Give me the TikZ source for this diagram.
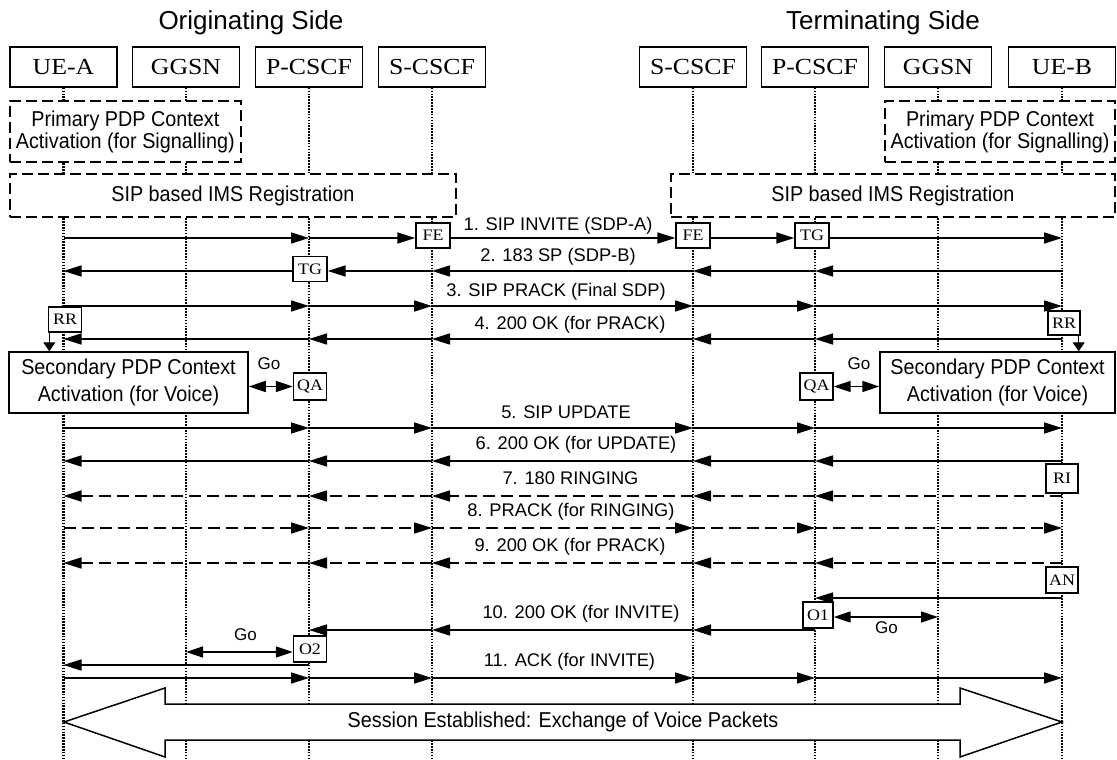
\documentclass[tikz,border=0pt]{standalone}
\usepackage{fontspec}
\setmainfont{Liberation Sans}
\newfontfamily\serifbox{Liberation Serif}[FakeStretch=1.12]
\newfontfamily\boxsans{Liberation Sans}[FakeStretch=0.92]
\usetikzlibrary{arrows.meta}
\begin{document}
\begin{tikzpicture}[x=1pt,y=-1pt,
  lifeline/.style={line width=2.2pt, dash pattern=on 1.6pt off 1.3pt},
  hdr/.style={draw, line width=1.5pt, fill=white, minimum width=107pt, minimum height=40pt, inner sep=0pt, font=\serifbox\fontsize{23}{27}\selectfont},
  dbox/.style={draw, line width=1.5pt, dash pattern=on 11pt off 5pt, fill=white, inner sep=0pt, align=center, font=\boxsans\fontsize{21.5}{22}\selectfont},
  sbox/.style={draw, line width=1.5pt, fill=white, inner sep=0pt, align=center, font=\boxsans\fontsize{21.5}{27}\selectfont},
  tagbox/.style={draw, line width=1.4pt, fill=white, inner sep=0pt, minimum width=33pt, minimum height=26pt, font=\serifbox\fontsize{16}{18}\selectfont},
  msg/.style={line width=1.6pt, -{Triangle[length=18pt,width=11pt]}},
  dmsg/.style={msg, dash pattern=on 12pt off 6pt},
  goarrow/.style={line width=1.6pt, {Triangle[length=17pt,width=11pt]}-{Triangle[length=17pt,width=11pt]}},
  downarrow/.style={line width=1pt, -{Triangle[length=9pt,width=12pt]}},
  lbl/.style={font=\fontsize{18.3}{20}\selectfont, inner sep=0pt},
  golbl/.style={font=\fontsize{17}{19}\selectfont, inner sep=0pt},
  title/.style={font=\fontsize{26}{30}\selectfont, inner sep=0pt},
]
\useasboundingbox (0,0) rectangle (1117,760);
\fill[white] (0,0) rectangle (1117,760);

% titles
\node[title] (tO) at (251,23) {Originating Side};
\node[title] (tT) at (883,23) {Terminating Side};

% header boxes
\node[hdr] (hUA) at (63.5,67) {UE-A};
\node[hdr] (hGA) at (186,67) {GGSN};
\node[hdr] (hPA) at (309,67) {P-CSCF};
\node[hdr] (hSA) at (432,67) {S-CSCF};
\node[hdr] (hSB) at (693,67) {S-CSCF};
\node[hdr] (hPB) at (815,67) {P-CSCF};
\node[hdr] (hGB) at (938,67) {GGSN};
\node[hdr] (hUB) at (1062,67) {UE-B};

\coordinate (bot) at (0,760);
\foreach \h in {hUA,hGA,hPA,hSA,hSB,hPB,hGB,hUB}
  \draw[lifeline] (\h.south) -- (\h.south |- bot);

% message rows
\coordinate (m1) at (0,238);
\coordinate (m2) at (0,271);
\coordinate (m3) at (0,306);
\coordinate (m4) at (0,339);
\coordinate (m5) at (0,428);
\coordinate (m6) at (0,461);
\coordinate (m7) at (0,496);
\coordinate (m8) at (0,528);
\coordinate (m9) at (0,563);
\coordinate (ma) at (0,598);
\coordinate (mb) at (0,630);
\coordinate (mc) at (0,665);
\coordinate (md) at (0,678);
\coordinate (g1) at (0,617);
\coordinate (g2) at (0,652);

% dashed procedure boxes
\node[dbox, minimum width=231pt, minimum height=61pt] (ppA) at (125.3,131.5) {Primary PDP Context\\Activation (for Signalling)};
\node[dbox, minimum width=230pt, minimum height=61pt] (ppB) at (1000,131.5) {Primary PDP Context\\Activation (for Signalling)};
\node[dbox, minimum width=446pt, minimum height=43pt] (imsA) at (232.8,195.5) {SIP based IMS Registration};
\node[dbox, minimum width=444pt, minimum height=43pt] (imsB) at (892.8,195.5) {SIP based IMS Registration};

% secondary PDP boxes
\node[sbox, minimum width=239pt, minimum height=61pt] (secA) at (128.5,382.5) {Secondary PDP Context\\Activation (for Voice)};
\node[sbox, minimum width=235pt, minimum height=61pt] (secB) at (997.5,382.5) {Secondary PDP Context\\Activation (for Voice)};

% tag boxes
\node[tagbox, minimum width=34pt, minimum height=25pt] (FEa) at (433,235.5) {FE};
\node[tagbox, minimum width=34pt, minimum height=25pt] (FEb) at (693,235.5) {FE};
\node[tagbox, minimum width=34pt, minimum height=25pt] (TGb) at (812,235.5) {TG};
\node[tagbox, minimum width=34pt, minimum height=25pt] (TGa) at (310,269) {TG};
\node[tagbox, minimum height=25pt] (RRa) at (65,319.5) {RR};
\node[tagbox, minimum width=32pt, minimum height=24pt] (RRb) at (1064,323) {RR};
\node[tagbox, minimum height=27pt] (QAa) at (310,386.5) {QA};
\node[tagbox, minimum height=27pt] (QAb) at (816.5,386.5) {QA};
\node[tagbox, minimum width=32pt, minimum height=29pt] (RI) at (1062,478.5) {RI};
\node[tagbox, minimum width=32pt] (AN) at (1062,580) {AN};
\node[tagbox, minimum width=30pt] (O1) at (818,615) {O1};
\node[tagbox] (O2) at (310,649) {O2};

% RR to secondary box
\draw[downarrow] ([xshift=1.5pt]RRa.south west) -- ([xshift=1.5pt]RRa.south west |- secA.north);
\draw[downarrow] ([xshift=-2pt]RRb.south east) -- ([xshift=-2pt]RRb.south east |- secB.north);

% 1. SIP INVITE
\draw[msg] (hUA |- m1) -- (hPA |- m1);
\draw[msg] (hPA |- m1) -- (FEa.west |- m1);
\draw[msg] (FEa.east |- m1) -- (FEb.west |- m1);
\draw[msg] (FEb.east |- m1) -- (TGb.west |- m1);
\draw[msg] (TGb.east |- m1) -- (hUB |- m1);
\node[lbl] (l1) at (558,226) {1. SIP INVITE (SDP-A)};

% 2. 183 SP
\draw[msg] (hUB |- m2) -- (hPB |- m2);
\draw[msg] (hPB |- m2) -- (hSB |- m2);
\draw[msg] (hSB |- m2) -- (hSA |- m2);
\draw[msg] (hSA |- m2) -- (TGa.east |- m2);
\draw[msg] (TGa.west |- m2) -- (hUA |- m2);
\node[lbl] (l2) at (558,257) {2. 183 SP (SDP-B)};

% 3. SIP PRACK
\foreach \a/\b in {hUA/hPA,hPA/hSA,hSA/hSB,hSB/hPB,hPB/hUB}
  \draw[msg] (\a |- m3) -- (\b |- m3);
\node[lbl] (l3) at (556,292) {3. SIP PRACK (Final SDP)};

% 4. 200 OK
\foreach \a/\b in {hUB/hPB,hPB/hSB,hSB/hSA,hSA/hPA,hPA/hUA}
  \draw[msg] (\a |- m4) -- (\b |- m4);
\node[lbl] (l4) at (570,325) {4. 200 OK (for PRACK)};

% Go (QA)
\draw[goarrow] (secA.east |- QAa) -- (QAa.west);
\draw[goarrow] (QAb.east) -- (secB.west |- QAb);
\node[golbl] (goA) at (269,364) {Go};
\node[golbl] (goB) at (859,364) {Go};

% 5. SIP UPDATE
\foreach \a/\b in {hUA/hPA,hPA/hSA,hSA/hSB,hSB/hPB,hPB/hUB}
  \draw[msg] (\a |- m5) -- (\b |- m5);
\node[lbl] (l5) at (566,412) {5. SIP UPDATE};

% 6. 200 OK
\foreach \a/\b in {hUB/hPB,hPB/hSB,hSB/hSA,hSA/hPA,hPA/hUA}
  \draw[msg] (\a |- m6) -- (\b |- m6);
\node[lbl] (l6) at (576,445) {6. 200 OK (for UPDATE)};

% 7. 180 RINGING
\foreach \a/\b in {hUB/hPB,hPB/hSB,hSB/hSA,hSA/hPA,hPA/hUA}
  \draw[dmsg] (\a |- m7) -- (\b |- m7);
\node[lbl] (l7) at (570.5,478) {7. 180 RINGING};

% 8. PRACK
\foreach \a/\b in {hUA/hPA,hPA/hSA,hSA/hSB,hSB/hPB,hPB/hUB}
  \draw[dmsg] (\a |- m8) -- (\b |- m8);
\node[lbl] (l8) at (571,512) {8. PRACK (for RINGING)};

% 9. 200 OK
\foreach \a/\b in {hUB/hPB,hPB/hSB,hSB/hSA,hSA/hPA,hPA/hUA}
  \draw[dmsg] (\a |- m9) -- (\b |- m9);
\node[lbl] (l9) at (570,547) {9. 200 OK (for PRACK)};

% 10. 200 OK (for INVITE)
\draw[msg] (hUB |- ma) -- (hPB |- ma);
\draw[msg] (hPB |- mb) -- (hSB |- mb);
\draw[msg] (hSB |- mb) -- (hSA |- mb);
\draw[msg] (hSA |- mb) -- (hPA |- mb);
\draw[msg] (hPA |- mc) -- (hUA |- mc);
\node[lbl] (l10) at (581,614) {10. 200 OK (for INVITE)};

% Go (O1, O2)
\draw[goarrow] (O1.east |- g1) -- (hGB |- g1);
\draw[goarrow] (hGA |- g2) -- (O2.west |- g2);
\node[golbl] (goC) at (886.5,628) {Go};
\node[golbl] (goD) at (245.5,635) {Go};

% 11. ACK
\foreach \a/\b in {hUA/hPA,hPA/hSA,hSA/hSB,hSB/hPB,hPB/hUB}
  \draw[msg] (\a |- md) -- (\b |- md);
\node[lbl] (l11) at (569.5,662) {11. ACK (for INVITE)};

% session established
\draw[line width=1.5pt, fill=white, line join=miter]
  (64,722) -- (165,688) -- (165,704) -- (960,704) -- (960,688) -- (1062,722)
  -- (960,757) -- (960,740) -- (165,740) -- (165,757) -- cycle;
\node[font=\boxsans\fontsize{21.5}{24}\selectfont, inner sep=0pt] (sess) at (563,722) {Session Established: Exchange of Voice Packets};
\end{tikzpicture}
\end{document}
